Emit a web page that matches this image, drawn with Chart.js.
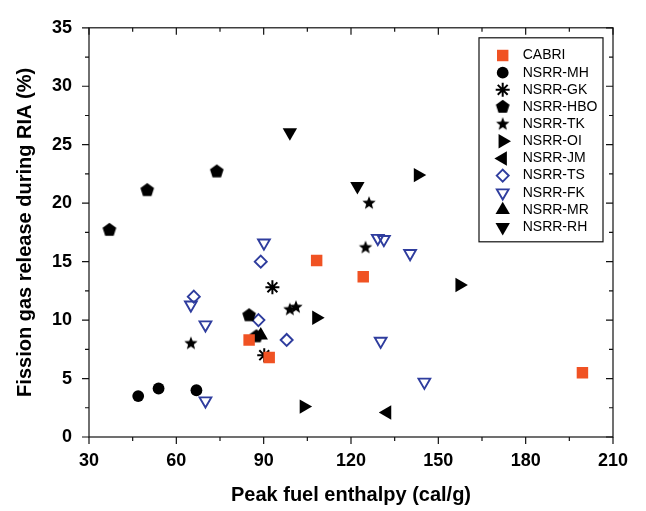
<!DOCTYPE html>
<html><head><meta charset="utf-8">
<script src="https://cdn.jsdelivr.net/npm/chart.js@4/dist/chart.umd.min.js"></script>
<style>html,body{margin:0;padding:0;background:#fff}</style>
</head><body>
<canvas id="c" width="646" height="511"></canvas>
<script>
// ---- data ----
const xTickLabels = [30, 60, 90, 120, 150, 180, 210];
const yTickLabels = [0, 5, 10, 15, 20, 25, 30, 35];
const seriesNames = ['CABRI','NSRR-MH','NSRR-GK','NSRR-HBO','NSRR-TK','NSRR-OI','NSRR-JM','NSRR-TS','NSRR-FK','NSRR-MR','NSRR-RH'];

const cabriX = [85.0, 91.9, 108.2, 124.2, 199.5];
const cabriY = [8.3, 6.8, 15.1, 13.7, 5.5];
const mhX = [46.9, 53.9, 66.9];
const mhY = [3.5, 4.15, 4.0];
const gkX = [93.0, 90.2];
const gkY = [12.8, 7.0];
const hboX = [37.0, 50.0, 73.9, 85.0, 87.5];
const hboY = [17.7, 21.1, 22.7, 10.4, 8.6];
const tkX = [65.0, 99.0, 101.1, 125.0, 126.2];
const tkY = [8.0, 10.9, 11.1, 16.2, 20.0];
const oiX = [103.8, 108.1, 143.0, 157.3];
const oiY = [2.6, 10.2, 22.4, 13.0];
const jmX = [132.4];
const jmY = [2.1];
const tsX = [66.0, 88.2, 89.0, 97.9];
const tsY = [12.0, 10.0, 15.0, 8.3];
const fkX = [65.0, 70.0, 70.0, 90.1, 129.2, 131.3, 140.3, 130.2, 145.2];
const fkY = [11.3, 9.6, 3.1, 16.6, 17.0, 16.9, 15.7, 8.2, 4.7];
const mrX = [89.0];
const mrY = [8.7];
const rhX = [99.0, 122.2];
const rhY = [26.05, 21.45];

// ---- styles ----
const BLUE = '#2f3d9e', ORANGE = '#f05223', BLACK = '#000';
const FONT = "'Liberation Sans', Arial, Helvetica, sans-serif";

function polyCanvas(n, R, inner, color) {
  const s = Math.ceil(R * 2 + 4) + (Math.ceil(R * 2 + 4) % 2);
  const c = document.createElement('canvas'); c.width = c.height = s;
  const g = c.getContext('2d'); g.fillStyle = color; g.beginPath();
  const pts = inner ? n * 2 : n;
  for (let i = 0; i < pts; i++) {
    const a = -Math.PI / 2 + i * 2 * Math.PI / pts;
    const r = inner ? (i % 2 ? R * inner : R) : R;
    const px = s / 2 + r * Math.cos(a), py = s / 2 + r * Math.sin(a);
    if (i) g.lineTo(px, py); else g.moveTo(px, py);
  }
  g.closePath(); g.fill();
  return c;
}
const pentagon = polyCanvas(5, 7.2, 0, BLACK);
const star5 = polyCanvas(5, 7.0, 0.43, BLACK);

const pts = (xs, ys) => xs.map((x, i) => ({x, y: ys[i]}));
function ds(i, xs, ys, style, o) {
  return Object.assign({
    label: seriesNames[i], data: pts(xs, ys), pointStyle: style,
    pointRadius: 6, pointHoverRadius: 6, pointBorderWidth: 0,
    pointBackgroundColor: BLACK, pointBorderColor: BLACK, pointRotation: 0
  }, o || {});
}
const datasets = [
  ds(0, cabriX, cabriY, 'rect', {pointRadius: 8.1, pointBackgroundColor: ORANGE, pointBorderColor: ORANGE}),
  ds(1, mhX, mhY, 'circle', {pointRadius: 5.9}),
  ds(2, gkX, gkY, 'star', {pointRadius: 7, pointBorderWidth: 2}),
  ds(3, hboX, hboY, pentagon),
  ds(4, tkX, tkY, star5),
  ds(5, oiX, oiY, 'triangle', {pointRadius: 8.3, pointRotation: 90}),
  ds(6, jmX, jmY, 'triangle', {pointRadius: 8.3, pointRotation: -90}),
  ds(7, tsX, tsY, 'rectRot', {pointRadius: 6, pointBorderWidth: 1.9, pointBackgroundColor: 'rgba(0,0,0,0)', pointBorderColor: BLUE}),
  ds(8, fkX, fkY, 'triangle', {pointRadius: 6.8, pointRotation: 180, pointBorderWidth: 1.9, pointBackgroundColor: 'rgba(0,0,0,0)', pointBorderColor: BLUE}),
  ds(9, mrX, mrY, 'triangle', {pointRadius: 8.3}),
  ds(10, rhX, rhY, 'triangle', {pointRadius: 8.3, pointRotation: 180})
];

// frame + mirrored ticks
const framePlugin = {
  id: 'frame',
  afterDraw(chart) {
    const ctx = chart.ctx, xs = chart.scales.x, ys = chart.scales.y;
    const {left, right, top, bottom} = chart.chartArea;
    ctx.save();
    ctx.strokeStyle = '#111'; ctx.lineWidth = 1.2;
    ctx.strokeRect(left, top, right - left, bottom - top);
    ctx.beginPath();
    const xv = xTickLabels;
    for (let i = 0; i < xv.length; i++) {
      const vals = [[xv[i], 7]];
      if (i < xv.length - 1) vals.push([(xv[i] + xv[i + 1]) / 2, 4]);
      for (const [v, L] of vals) {
        const p = xs.getPixelForValue(v);
        ctx.moveTo(p, bottom); ctx.lineTo(p, bottom + L);
        ctx.moveTo(p, top); ctx.lineTo(p, top + L);
      }
    }
    const yv = yTickLabels;
    for (let i = 0; i < yv.length; i++) {
      const vals = [[yv[i], 7]];
      if (i < yv.length - 1) vals.push([(yv[i] + yv[i + 1]) / 2, 4]);
      for (const [v, L] of vals) {
        const p = ys.getPixelForValue(v);
        ctx.moveTo(left, p); ctx.lineTo(left - L, p);
        ctx.moveTo(right, p); ctx.lineTo(right - L, p);
      }
    }
    ctx.stroke();
    ctx.restore();
  }
};

// boxed legend inside the plot
const legendPlugin = {
  id: 'boxLegend',
  afterDraw(chart) {
    const ctx = chart.ctx;
    const {right, top} = chart.chartArea;
    const bx = right - 134, by = top + 10, bw = 124, bh = 204;
    ctx.save();
    ctx.fillStyle = '#fff'; ctx.fillRect(bx, by, bw, bh);
    ctx.strokeStyle = '#111'; ctx.lineWidth = 1.2;
    ctx.strokeRect(bx, by, bw, bh);
    chart.data.datasets.forEach((d, i) => {
      const cy = by + 17.7 + i * 17.16, cx = bx + 23.7;
      ctx.fillStyle = d.pointBackgroundColor;
      ctx.strokeStyle = d.pointBorderColor;
      ctx.lineWidth = d.pointBorderWidth;
      Chart.helpers.drawPoint(ctx, {pointStyle: d.pointStyle, rotation: d.pointRotation,
        radius: d.pointRadius, borderWidth: d.pointBorderWidth}, cx, cy);
      ctx.fillStyle = '#000';
      ctx.font = '14px ' + FONT;
      ctx.textBaseline = 'middle'; ctx.textAlign = 'left';
      ctx.fillText(d.label, bx + 43.7, cy);
    });
    ctx.restore();
  }
};

new Chart(document.getElementById('c'), {
  type: 'scatter',
  data: {datasets},
  options: {
    responsive: false, animation: false, devicePixelRatio: 1,
    layout: {padding: {left: 0, right: 33, top: 15, bottom: 0}},
    plugins: {legend: {display: false}, tooltip: {enabled: false}},
    events: [],
    scales: {
      x: {
        type: 'linear', min: 30, max: 210,
        afterBuildTicks: s => { s.ticks = xTickLabels.map(v => ({value: v})); },
        afterFit: s => { s.height = 74; },
        grid: {display: false, drawTicks: false},
        border: {display: false},
        ticks: {color: '#000', padding: 13, font: {family: FONT, size: 18, weight: 'bold'}},
        title: {display: true, text: 'Peak fuel enthalpy (cal/g)', color: '#000',
          padding: {top: 0, bottom: 4}, font: {family: FONT, size: 20, weight: 'bold'}}
      },
      y: {
        type: 'linear', min: 0, max: 35,
        afterBuildTicks: s => { s.ticks = yTickLabels.map(v => ({value: v})); },
        afterFit: s => { s.width = 89; },
        grid: {display: false, drawTicks: false},
        border: {display: false},
        ticks: {color: '#000', padding: 17, font: {family: FONT, size: 18, weight: 'bold'}},
        title: {display: true, text: 'Fission gas release during RIA (%)', color: '#000',
          padding: {top: 13, bottom: 0}, font: {family: FONT, size: 20, weight: 'bold'}}
      }
    }
  },
  plugins: [framePlugin, legendPlugin]
});
</script>
</body></html>
